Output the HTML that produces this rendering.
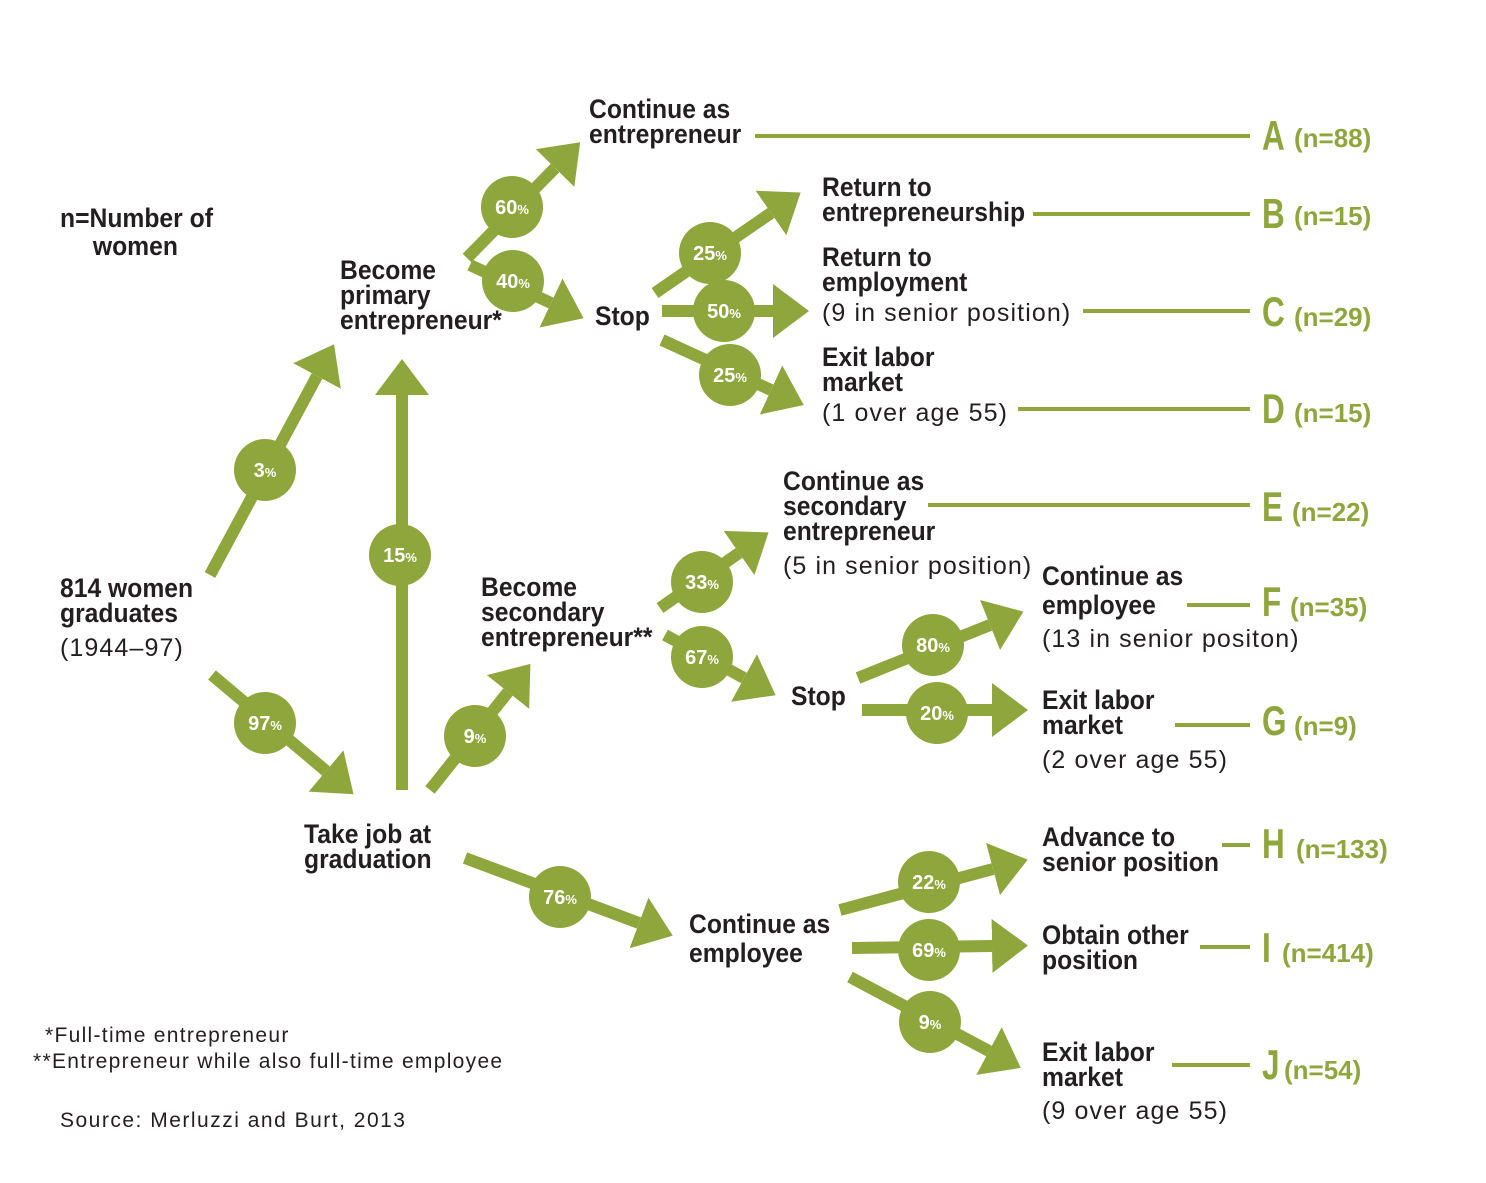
<!DOCTYPE html>
<html><head><meta charset="utf-8"><style>
body{margin:0;background:#fff}
svg{display:block}
.b{font-family:"Liberation Sans Narrow","Liberation Sans",sans-serif;font-weight:bold;font-size:27px;fill:#231f20;transform-box:fill-box;transform-origin:0 0;transform:scaleX(.915)}
.r{font-family:"Liberation Sans",sans-serif;font-size:25px;letter-spacing:1.1px;fill:#231f20}
.f{font-family:"Liberation Sans",sans-serif;font-size:21px;letter-spacing:1.3px;fill:#231f20}
.p{font-family:"Liberation Sans",sans-serif;font-weight:bold;font-size:20px;fill:#fff;text-anchor:middle}
.p tspan{font-size:13px}
.L{font-family:"Liberation Sans",sans-serif;font-weight:bold;font-size:42px;fill:#8ea63c;transform-box:fill-box;transform-origin:0 0;transform:scaleX(.75)}
.n{font-family:"Liberation Sans",sans-serif;font-weight:bold;font-size:26px;fill:#8ea63c}
</style></head><body>
<svg width="1486" height="1183" viewBox="0 0 1486 1183" xmlns="http://www.w3.org/2000/svg">
<defs><marker id="h" markerUnits="userSpaceOnUse" markerWidth="40" markerHeight="60" refX="0" refY="27" orient="auto"><path d="M0,0 L36,27 L0,54 Z" fill="#8ea63c"/></marker></defs>
<g stroke="#8ea63c" stroke-width="12" marker-end="url(#h)" fill="none">
<line x1="210" y1="575" x2="317" y2="376"/>
<line x1="402" y1="790" x2="402" y2="395"/>
<line x1="212" y1="675" x2="326" y2="771"/>
<line x1="430" y1="790" x2="508" y2="692"/>
<line x1="465" y1="858" x2="639" y2="923"/>
<line x1="467" y1="258" x2="555" y2="168"/>
<line x1="470" y1="265" x2="551" y2="303"/>
<line x1="655" y1="293" x2="771" y2="213"/>
<line x1="662" y1="311" x2="773" y2="311"/>
<line x1="662" y1="340" x2="771" y2="390"/>
<line x1="660" y1="608" x2="739" y2="553"/>
<line x1="665" y1="635" x2="744" y2="678"/>
<line x1="858" y1="678" x2="990" y2="625"/>
<line x1="862" y1="710" x2="992" y2="710"/>
<line x1="840" y1="910" x2="993" y2="869"/>
<line x1="852" y1="948" x2="992" y2="946"/>
<line x1="850" y1="977" x2="989" y2="1051"/>
</g>
<g fill="#8ea63c">
<circle cx="265" cy="470" r="31"/><circle cx="400" cy="555" r="31"/><circle cx="265" cy="723" r="31"/>
<circle cx="475" cy="736" r="31"/><circle cx="560" cy="897" r="31"/><circle cx="512" cy="207" r="31"/>
<circle cx="513" cy="281" r="31"/><circle cx="710" cy="253" r="31"/><circle cx="724" cy="311" r="31"/>
<circle cx="730" cy="375" r="31"/><circle cx="702" cy="582" r="31"/><circle cx="702" cy="657" r="31"/>
<circle cx="933" cy="645" r="31"/><circle cx="937" cy="713" r="31"/><circle cx="929" cy="882" r="31"/>
<circle cx="929" cy="950" r="31"/><circle cx="930" cy="1022" r="31"/>
</g>
<g>
<text class="p" x="265" y="477">3<tspan>%</tspan></text>
<text class="p" x="400" y="562">15<tspan>%</tspan></text>
<text class="p" x="265" y="730">97<tspan>%</tspan></text>
<text class="p" x="475" y="743">9<tspan>%</tspan></text>
<text class="p" x="560" y="904">76<tspan>%</tspan></text>
<text class="p" x="512" y="214">60<tspan>%</tspan></text>
<text class="p" x="513" y="288">40<tspan>%</tspan></text>
<text class="p" x="710" y="260">25<tspan>%</tspan></text>
<text class="p" x="724" y="318">50<tspan>%</tspan></text>
<text class="p" x="730" y="382">25<tspan>%</tspan></text>
<text class="p" x="702" y="589">33<tspan>%</tspan></text>
<text class="p" x="702" y="664">67<tspan>%</tspan></text>
<text class="p" x="933" y="652">80<tspan>%</tspan></text>
<text class="p" x="937" y="720">20<tspan>%</tspan></text>
<text class="p" x="929" y="889">22<tspan>%</tspan></text>
<text class="p" x="929" y="957">69<tspan>%</tspan></text>
<text class="p" x="930" y="1029">9<tspan>%</tspan></text>
</g>
<g stroke="#8ea63c" stroke-width="4">
<line x1="755" y1="136" x2="1250" y2="136"/>
<line x1="1033" y1="214" x2="1250" y2="214"/>
<line x1="1083" y1="311" x2="1250" y2="311"/>
<line x1="1018" y1="409" x2="1250" y2="409"/>
<line x1="928" y1="505" x2="1250" y2="505"/>
<line x1="1187" y1="605" x2="1250" y2="605"/>
<line x1="1175" y1="725" x2="1250" y2="725"/>
<line x1="1222" y1="845" x2="1250" y2="845"/>
<line x1="1200" y1="947" x2="1250" y2="947"/>
<line x1="1172" y1="1065" x2="1250" y2="1065"/>
</g>
<g>
<text class="L" x="1262" y="150">A</text><text class="n" x="1294" y="147">(n=88)</text>
<text class="L" x="1262" y="228">B</text><text class="n" x="1294" y="225">(n=15)</text>
<text class="L" x="1262" y="326">C</text><text class="n" x="1294" y="326">(n=29)</text>
<text class="L" x="1262" y="423">D</text><text class="n" x="1294" y="422">(n=15)</text>
<text class="L" x="1262" y="521">E</text><text class="n" x="1292" y="521">(n=22)</text>
<text class="L" x="1262" y="616">F</text><text class="n" x="1290" y="616">(n=35)</text>
<text class="L" x="1262" y="735">G</text><text class="n" x="1294" y="735">(n=9)</text>
<text class="L" x="1262" y="858">H</text><text class="n" x="1296" y="858">(n=133)</text>
<text class="L" x="1262" y="962">I</text><text class="n" x="1282" y="962">(n=414)</text>
<text class="L" x="1262" y="1079">J</text><text class="n" x="1284" y="1079">(n=54)</text>
</g>
<g>
<text class="b" x="589" y="118">Continue as</text><text class="b" x="589" y="143">entrepreneur</text>
<text class="b" x="60" y="227">n=Number of</text><text class="b" x="93" y="255">women</text>
<text class="b" x="340" y="279">Become</text><text class="b" x="340" y="304">primary</text><text class="b" x="340" y="329">entrepreneur*</text>
<text class="b" x="595" y="325">Stop</text>
<text class="b" x="822" y="196">Return to</text><text class="b" x="822" y="221">entrepreneurship</text>
<text class="b" x="822" y="266">Return to</text><text class="b" x="822" y="291">employment</text><text class="r" x="822" y="321">(9 in senior position)</text>
<text class="b" x="822" y="366">Exit labor</text><text class="b" x="822" y="391">market</text><text class="r" x="822" y="421">(1 over age 55)</text>
<text class="b" x="783" y="490">Continue as</text><text class="b" x="783" y="515">secondary</text><text class="b" x="783" y="540">entrepreneur</text><text class="r" x="783" y="574">(5 in senior position)</text>
<text class="b" x="60" y="597">814 women</text><text class="b" x="60" y="622">graduates</text><text class="r" x="60" y="656">(1944–97)</text>
<text class="b" x="481" y="596">Become</text><text class="b" x="481" y="621">secondary</text><text class="b" x="481" y="646">entrepreneur**</text>
<text class="b" x="1042" y="585">Continue as</text><text class="b" x="1042" y="614">employee</text><text class="r" x="1042" y="647">(13 in senior positon)</text>
<text class="b" x="791" y="705">Stop</text>
<text class="b" x="1042" y="709">Exit labor</text><text class="b" x="1042" y="734">market</text><text class="r" x="1042" y="768">(2 over age 55)</text>
<text class="b" x="304" y="843">Take job at</text><text class="b" x="304" y="868">graduation</text>
<text class="b" x="1042" y="846">Advance to</text><text class="b" x="1042" y="871">senior position</text>
<text class="b" x="689" y="933">Continue as</text><text class="b" x="689" y="962">employee</text>
<text class="b" x="1042" y="944">Obtain other</text><text class="b" x="1042" y="969">position</text>
<text class="b" x="1042" y="1061">Exit labor</text><text class="b" x="1042" y="1086">market</text><text class="r" x="1042" y="1119">(9 over age 55)</text>
<text class="f" x="45" y="1042">*Full-time entrepreneur</text>
<text class="f" x="33" y="1068">**Entrepreneur while also full-time employee</text>
<text class="f" x="60" y="1127" style="letter-spacing:1.5px">Source: Merluzzi and Burt, 2013</text>
</g>
</svg>
</body></html>
